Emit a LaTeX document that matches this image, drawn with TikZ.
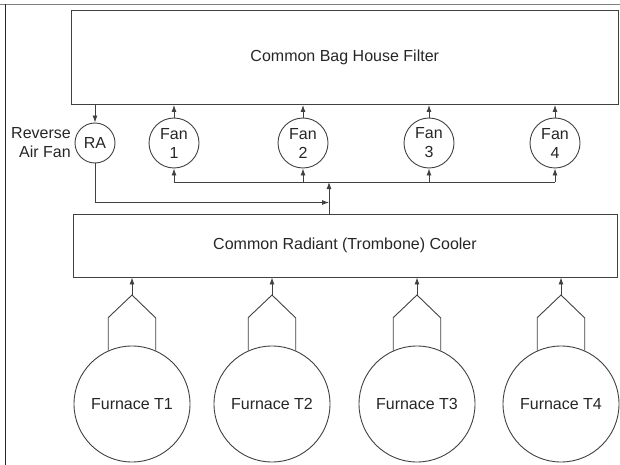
\documentclass[tikz,border=0pt]{standalone}
\usepackage{fontspec}
\setmainfont{Liberation Sans}
\usetikzlibrary{arrows.meta,calc}
\begin{document}
\begin{tikzpicture}[x=1pt,y=-1pt,
  every node/.style={font=\fontsize{16}{19}\selectfont, text=black!85},
  ln/.style={draw=black!75, line width=0.9pt},
  arr/.style={ln, -{Latex[length=7pt,width=5pt]}},
  boxnode/.style={ln, rectangle, inner sep=0pt},
  fannode/.style={ln, circle, inner sep=0pt, minimum size=50pt, align=center},
  ranode/.style={ln, circle, inner sep=0pt, minimum size=40pt},
  furnode/.style={ln, circle, inner sep=0pt, minimum size=116pt}]
\useasboundingbox (0,0) rectangle (620,465);
\draw[draw=black!50, line width=1pt] (0,4.5) -- (620,4.5);
\draw[draw=black!85, line width=1pt] (5,4.5) -- (5,465);

\node[boxnode, minimum width=547pt, minimum height=94pt] (bag) at (344.75,57.5) {Common Bag House Filter};
\node[boxnode, minimum width=544pt, minimum height=63pt] (cool) at (345,245.5) {Common Radiant (Trombone) Cooler};

\node[ranode] (ra) at (95,143) {RA};
\node[anchor=east, align=right, inner sep=0pt] (ralbl) at (71,143) {Reverse\\Air Fan};
\node[fannode] (fan1) at (174,143) {Fan\\1};
\node[fannode] (fan2) at (303,143) {Fan\\2};
\node[fannode] (fan3) at (429,143) {Fan\\3};
\node[fannode] (fan4) at (555,143) {Fan\\4};

\node[furnode] (f1) at (132,404) {Furnace T1};
\node[furnode] (f2) at (272,404) {Furnace T2};
\node[furnode] (f3) at (417,404) {Furnace T3};
\node[furnode] (f4) at (561,404) {Furnace T4};

% bag house to RA, fans to bag house
\draw[arr] (bag.south -| ra) -- (ra.north);
\foreach \f in {fan1,fan2,fan3,fan4}{
  \draw[arr] (\f.north) -- (\f.north |- bag.south);
}
% bus
\coordinate (bus) at (0,182);
\coordinate (jn) at (329,182);
\coordinate (rj) at (329,202.5);
\draw[ln] (fan1.south |- bus) -- (fan4.south |- bus);
\foreach \f in {fan1,fan2,fan3,fan4}{
  \draw[arr] (\f.south |- bus) -- (\f.south);
}
\draw[arr] (cool.north -| jn) -- (jn);
\draw[arr] (ra.south) |- (rj);

% furnaces to cooler
\foreach \f in {f1,f2,f3,f4}{
  \draw[ln] (\f.114) -- ++(0,-33) -- (\f |- 0,295) coordinate (pk\f) -- ($(\f.66 |- 0,0)+(0,318)$) -- (\f.66);
  \draw[arr] (pk\f) -- (\f |- cool.south);
}
\end{tikzpicture}
\end{document}
